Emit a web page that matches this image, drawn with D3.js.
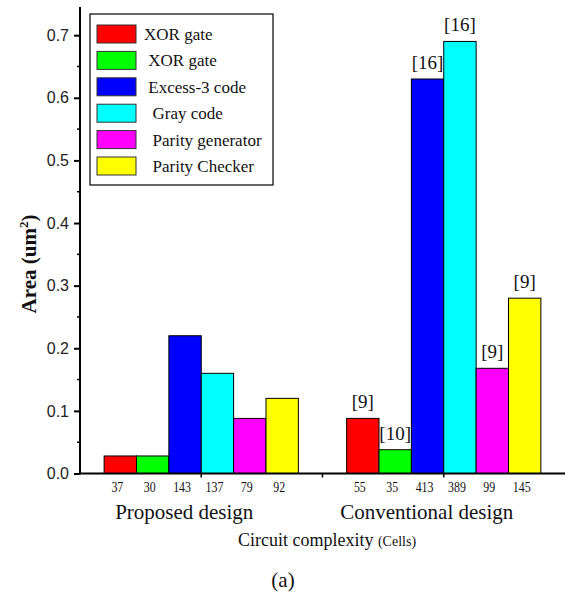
<!DOCTYPE html>
<html>
<head>
<meta charset="utf-8">
<script src="https://cdn.jsdelivr.net/npm/d3@7"></script>
<style>
  body { margin: 0; background: #fff; }
  svg { display: block; }
  .legend text { white-space: pre; }
  .serif { font-family: "Liberation Serif", "Times New Roman", serif; }
</style>
</head>
<body>
<script>
// values
var series = ["XOR gate", " XOR gate", " Excess-3 code", "  Gray code", "  Parity generator", "  Parity Checker"];
var colors = ["#ff0000", "#00ff00", "#0000ff", "#00ffff", "#ff00ff", "#ffff00"];
var groups = ["Proposed design", "Conventional design"];
var proposedArea = [0.028, 0.028, 0.22, 0.16, 0.088, 0.12];
var conventionalArea = [0.088, 0.038, 0.63, 0.69, 0.168, 0.28];
var proposedCells = [37, 30, 143, 137, 79, 92];
var conventionalCells = [55, 35, 413, 389, 99, 145];
var conventionalRefs = ["[9]", "[10]", "[16]", "[16]", "[9]", "[9]"];
var yTicks = [0, 0.1, 0.2, 0.3, 0.4, 0.5, 0.6, 0.7];
var groupPos = [1, 3];

var width = 566, height = 595;
var svg = d3.select("body").append("svg")
    .attr("width", width)
    .attr("height", height);

var x = d3.scaleLinear().domain([0, 4]).range([80, 565]);
var y = d3.scaleLinear().domain([0, 0.745]).range([473.5, 7]);
var barW = 0.267; // in x units

var rows = [];
[proposedArea, conventionalArea].forEach(function(vals, g) {
    vals.forEach(function(v, i) {
        rows.push({
            g: g, i: i, v: v,
            cells: g == 0 ? proposedCells[i] : conventionalCells[i],
            ref: g == 0 ? null : conventionalRefs[i],
            x0: groupPos[g] + (i - 3) * barW
        });
    });
});

// bars
svg.append("g")
    .selectAll("rect")
    .data(rows)
    .enter()
    .append("rect")
    .attr("x", function(d) { return x(d.x0); })
    .attr("width", function(d) { return x(d.x0 + barW) - x(d.x0); })
    .attr("y", function(d) { return y(d.v); })
    .attr("height", function(d) { return y(0) - y(d.v); })
    .attr("fill", function(d) { return colors[d.i]; })
    .attr("stroke", "#000")
    .attr("stroke-width", 1);

// reference labels above conventional bars
svg.append("g")
    .selectAll("text")
    .data(rows.filter(function(d) { return d.ref; }))
    .enter()
    .append("text")
    .attr("class", "serif")
    .attr("x", function(d) { return x(d.x0 + barW / 2); })
    .attr("y", function(d) { return y(d.v) - 10; })
    .attr("text-anchor", "middle")
    .style("font-size", "19px")
    .attr("fill", "#111")
    .text(function(d) { return d.ref; });

// cell counts under bars
svg.append("g")
    .selectAll("text")
    .data(rows)
    .enter()
    .append("text")
    .attr("class", "serif")
    .attr("transform", function(d) {
        return "translate(" + (x(d.x0 + barW / 2) - 3) + ",492) scale(0.85,1)";
    })
    .attr("text-anchor", "middle")
    .style("font-size", "14px")
    .attr("fill", "#111")
    .text(function(d) { return d.cells; });

// y axis
var yAxis = d3.axisLeft(y).tickValues(yTicks).tickFormat(d3.format(".1f")).tickSize(6).tickPadding(5);
var yg = svg.append("g")
    .attr("transform", "translate(80,0)")
    .call(yAxis);
yg.select(".domain").remove();
yg.selectAll("line").attr("stroke", "#000").attr("stroke-width", 2);
yg.selectAll("text")
    .style("font-family", "'Liberation Sans', Arial, sans-serif")
    .style("font-size", "16px")
    .attr("fill", "#222");

// minor ticks
svg.append("g")
    .selectAll("line")
    .data(d3.range(0.05, 0.75, 0.1))
    .enter()
    .append("line")
    .attr("x1", 77).attr("x2", 80)
    .attr("y1", function(d) { return y(d); })
    .attr("y2", function(d) { return y(d); })
    .attr("stroke", "#000")
    .attr("stroke-width", 1.5);

svg.append("line")
    .attr("x1", 80).attr("x2", 80)
    .attr("y1", y(0.745)).attr("y2", y(0) + 1)
    .attr("stroke", "#000").attr("stroke-width", 2);

// x axis
svg.append("line")
    .attr("x1", 79).attr("x2", x(4))
    .attr("y1", y(0)).attr("y2", y(0))
    .attr("stroke", "#000").attr("stroke-width", 2);
svg.append("g")
    .selectAll("line")
    .data([1, 2, 3])
    .enter()
    .append("line")
    .attr("x1", function(d) { return x(d); })
    .attr("x2", function(d) { return x(d); })
    .attr("y1", y(0)).attr("y2", y(0) + 4)
    .attr("stroke", "#000").attr("stroke-width", 1.5);

// group labels
svg.append("g")
    .selectAll("text")
    .data(groups)
    .enter()
    .append("text")
    .attr("class", "serif")
    .attr("x", function(d, i) { return x(groupPos[i]) - 17; })
    .attr("y", 519)
    .attr("text-anchor", "middle")
    .style("font-size", "21px")
    .attr("fill", "#111")
    .text(function(d) { return d; });

// x title
var xt = svg.append("text")
    .attr("class", "serif")
    .attr("x", 327)
    .attr("y", 546)
    .attr("text-anchor", "middle")
    .attr("fill", "#111");
xt.append("tspan").style("font-size", "18px").text("Circuit complexity ");
xt.append("tspan").style("font-size", "14px").text("(Cells)");

// y title
var yt = svg.append("text")
    .attr("class", "serif")
    .attr("transform", "translate(36,264) rotate(-90)")
    .attr("text-anchor", "middle")
    .style("font-size", "21px")
    .style("font-weight", "bold")
    .attr("fill", "#111");
yt.append("tspan").text("Area (um");
yt.append("tspan").attr("dy", -8).style("font-size", "13px").text("2");
yt.append("tspan").attr("dy", 8).text(")");

// caption
svg.append("text")
    .attr("class", "serif")
    .attr("x", 283)
    .attr("y", 587)
    .attr("text-anchor", "middle")
    .style("font-size", "21px")
    .attr("fill", "#111")
    .text("(a)");

// legend
var legend = svg.append("g").attr("class", "legend");
legend.append("rect")
    .attr("x", 90).attr("y", 14)
    .attr("width", 183).attr("height", 171)
    .attr("fill", "#fff")
    .attr("stroke", "#000").attr("stroke-width", 1.2);
var item = legend.selectAll(".item")
    .data(series)
    .enter()
    .append("g")
    .attr("transform", function(d, i) { return "translate(0," + (34 + i * 26.4) + ")"; });
item.append("rect")
    .attr("x", 97).attr("y", -9)
    .attr("width", 39).attr("height", 18)
    .attr("fill", function(d, i) { return colors[i]; })
    .attr("stroke", "#333").attr("stroke-width", 1);
item.append("text")
    .attr("class", "serif")
    .attr("x", 144).attr("y", 6)
    .style("font-size", "17px")
    .attr("fill", "#111")
    .text(function(d) { return d; });
</script>
</body>
</html>
